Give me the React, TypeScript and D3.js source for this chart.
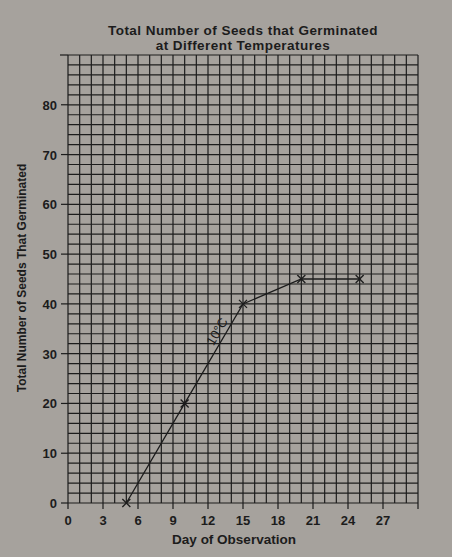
import React from "react";
import * as d3 from "d3";

const days = [5, 10, 15, 20, 25];
const seeds = [0, 20, 40, 45, 45];
const xTicks = [0, 3, 6, 9, 12, 15, 18, 21, 24, 27];
const yTicks = [0, 10, 20, 30, 40, 50, 60, 70, 80];
const titleLines = ["Total Number of Seeds that Germinated", "at Different Temperatures"];
const xLabel = "Day of Observation";
const yLabel = "Total Number of Seeds That Germinated";
const seriesLabel = "10°C";

const W = 452, H = 557;
const left = 68, right = 418, top = 55, bottom = 503;

export default function App() {
  const x = d3.scaleLinear().domain([0, 30]).range([left, right]);
  const y = d3.scaleLinear().domain([0, 90]).range([bottom, top]);
  const vLines = d3.range(0, 31, 1);
  const hLines = d3.range(0, 91, 2);
  const line = d3.line<number>().x((_, i) => x(days[i])).y((d) => y(d));
  const font = "Liberation Sans, Arial, sans-serif";
  const ink = "#1c1c1c";
  const t = 0.68;
  const lx = x(days[1] + (days[2] - days[1]) * t);
  const ly = y(seeds[1] + (seeds[2] - seeds[1]) * t);
  const ang = (Math.atan2(y(seeds[2]) - y(seeds[1]), x(days[2]) - x(days[1])) * 180) / Math.PI;
  return (
    <svg width={W} height={H} style={{ position: "absolute", left: 0, top: 0 }}>
      <rect width={W} height={H} fill="#a6a29d" />
      <text x={243} y={35} textAnchor="middle" fontFamily={font} fontSize={13.5} letterSpacing={0.45} fontWeight="bold" fill={ink}>
        {titleLines[0]}
      </text>
      <text x={243} y={50} textAnchor="middle" fontFamily={font} fontSize={13.5} letterSpacing={0.45} fontWeight="bold" fill={ink}>
        {titleLines[1]}
      </text>
      <g stroke={ink} strokeWidth={1.2}>
        {vLines.map((v) => (
          <line key={"v" + v} x1={x(v)} x2={x(v)} y1={top} y2={bottom} />
        ))}
        {hLines.map((h) => (
          <line key={"h" + h} x1={left} x2={right} y1={y(h)} y2={y(h)} />
        ))}
        <line x1={left - 8} x2={left} y1={top} y2={top} />
        {yTicks.map((tk) => (
          <line key={"yt" + tk} x1={left - 7} x2={left} y1={y(tk)} y2={y(tk)} />
        ))}
        {xTicks.map((tk) => (
          <line key={"xt" + tk} x1={x(tk)} x2={x(tk)} y1={bottom} y2={bottom + 6} />
        ))}
        <line x1={right} x2={right} y1={bottom} y2={bottom + 6} />
      </g>
      {yTicks.map((tk) => (
        <text key={"yl" + tk} x={left - 11} y={y(tk) + 5} textAnchor="end" fontFamily={font} fontSize={13} fontWeight="bold" fill={ink}>
          {tk}
        </text>
      ))}
      {xTicks.map((tk) => (
        <text key={"xl" + tk} x={x(tk)} y={bottom + 22} textAnchor="middle" fontFamily={font} fontSize={13} fontWeight="bold" fill={ink}>
          {tk}
        </text>
      ))}
      <text x={234} y={544} textAnchor="middle" fontFamily={font} fontSize={13.5} fontWeight="bold" fill={ink}>
        {xLabel}
      </text>
      <text
        transform={`translate(26,${278}) rotate(-90)`}
        textAnchor="middle"
        fontFamily={font}
        fontSize={12}
        fontWeight="bold"
        fill={ink}
      >
        {yLabel}
      </text>
      <path d={line(seeds) || ""} fill="none" stroke={ink} strokeWidth={1.3} />
      {seeds.map((s, i) => (
        <g key={"m" + i} stroke={ink} strokeWidth={1.3}>
          <line x1={x(days[i]) - 4} x2={x(days[i]) + 4} y1={y(s) - 4} y2={y(s) + 4} />
          <line x1={x(days[i]) - 4} x2={x(days[i]) + 4} y1={y(s) + 4} y2={y(s) - 4} />
        </g>
      ))}
      <text
        transform={`translate(${lx},${ly}) rotate(${ang})`}
        y={-4}
        textAnchor="middle"
        fontFamily={font}
        fontSize={13}
        fill={ink}
      >
        {seriesLabel}
      </text>
    </svg>
  );
}
